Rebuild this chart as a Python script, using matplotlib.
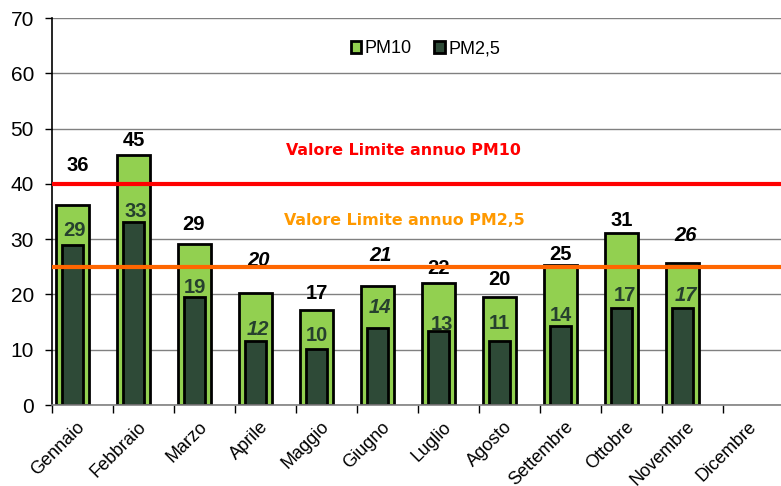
import matplotlib
matplotlib.use("Agg")
import matplotlib.pyplot as plt
import numpy as np

months = ["Gennaio", "Febbraio", "Marzo", "Aprile", "Maggio", "Giugno",
          "Luglio", "Agosto", "Settembre", "Ottobre", "Novembre", "Dicembre"]
pm10 = [36.2, 45.3, 29.1, 20.2, 17.1, 21.5, 22.0, 19.5, 25.4, 31.2, 25.6, np.nan]
pm25 = [28.9, 33.1, 19.5, 11.6, 10.2, 13.9, 13.3, 11.6, 14.3, 17.5, 17.5, np.nan]
pm10_labels = ["36", "45", "29", "20", "17", "21", "22", "20", "25", "31", "26", ""]
pm25_labels = ["29", "33", "19", "12", "10", "14", "13", "11", "14", "17", "17", ""]
pm10_italic = [False, False, False, True, False, True, False, False, False, False, True, False]
pm25_italic = [False, False, False, True, False, True, False, False, False, False, True, False]
limit_pm10 = 40
limit_pm25 = 25

# label offsets (pixels) relative to bar top center
pm10_dy = [39, 14, 20, 33, 17, 31, 15, 18, 10, 12, 28, 0]
pm10_dx = [5, 0, -1, 3, 0, 3, 0, 0, 0, 0, 3, 0]
pm25_dy = [15, 11, 10, 11, 13, 21, 7, 17, 10, 13, 13, 0]
pm25_dx = [2, 2, 0, 2, 0, 2, 3, 0, 0, 3, 3, 0]

LIGHT = "#92D050"
DARK = "#2E4A37"

fig = plt.figure(figsize=(7.81, 4.86), dpi=100)
ax = fig.add_axes([52/781, 1-405/486, 732/781, 387/486])

x = np.arange(len(months))
off = -0.164
ax.bar(x + off, pm10, width=0.54, color=LIGHT, edgecolor="black", linewidth=2.0, zorder=2, label="PM10")
ax.bar(x + off, pm25, width=0.33, color=DARK, edgecolor="black", linewidth=2.0, zorder=2.5, label="PM2,5")

k = 0.72  # px -> pt
for i in range(len(months)):
    if pm10_labels[i]:
        ax.annotate(pm10_labels[i], (x[i] + off, pm10[i]),
                    xytext=(pm10_dx[i]*k, pm10_dy[i]*k), textcoords="offset points",
                    ha="center", va="center", fontsize=14.5, fontweight="bold",
                    fontstyle="italic" if pm10_italic[i] else "normal",
                    family="Liberation Sans", color="black", zorder=3)
    if pm25_labels[i]:
        ax.annotate(pm25_labels[i], (x[i] + off, pm25[i]),
                    xytext=(pm25_dx[i]*k, pm25_dy[i]*k), textcoords="offset points",
                    ha="center", va="center", fontsize=14.5, fontweight="bold",
                    fontstyle="italic" if pm25_italic[i] else "normal",
                    family="Liberation Sans", color="#26402E", zorder=3)

ax.axhline(limit_pm10, color="#FF0000", linewidth=3, zorder=4)
ax.axhline(limit_pm25, color="#FF6600", linewidth=3, zorder=4)

ax.text(0.480, 46.1, "Valore Limite annuo PM10", transform=ax.get_yaxis_transform(),
        ha="center", va="center", color="#FF0000", fontsize=11.4, fontweight="bold",
        family="DejaVu Sans")
ax.text(0.482, 33.4, "Valore Limite annuo PM2,5", transform=ax.get_yaxis_transform(),
        ha="center", va="center", color="#FF9900", fontsize=11.4, fontweight="bold",
        family="DejaVu Sans")

ax.set_ylim(0, 70)
ax.set_xlim(-0.5, 11.5)
ax.set_yticks(range(0, 71, 10))
ax.yaxis.grid(True, color="#808080", linewidth=1, zorder=0)
ax.set_axisbelow(True)

ax.set_xticks(x)
ax.set_xticklabels(months, rotation=45, ha="right", va="center", rotation_mode="anchor",
                   fontsize=13, family="Liberation Sans")
ax.tick_params(axis="x", which="major", length=0, pad=14)
ax.set_xticks(np.arange(-0.5, 12, 1), minor=True)
ax.tick_params(axis="x", which="minor", length=6, width=1, color="black", direction="out")
ax.tick_params(axis="y", length=5, width=1, labelsize=15, pad=8)
for lab in ax.get_yticklabels():
    lab.set_family("Liberation Sans")

for s in ["top", "right"]:
    ax.spines[s].set_visible(False)
ax.spines["left"].set_color("black")
ax.spines["left"].set_linewidth(1.2)
ax.spines["bottom"].set_color("#808080")
ax.spines["bottom"].set_linewidth(1.2)

leg = ax.legend(loc="center", bbox_to_anchor=(0.51, 0.92), ncol=2, frameon=False,
                prop={"family": "Liberation Sans", "size": 13},
                handlelength=0.6, handleheight=0.6, handletextpad=0.2, columnspacing=1.2)

fig.savefig("out.png", dpi=100)
